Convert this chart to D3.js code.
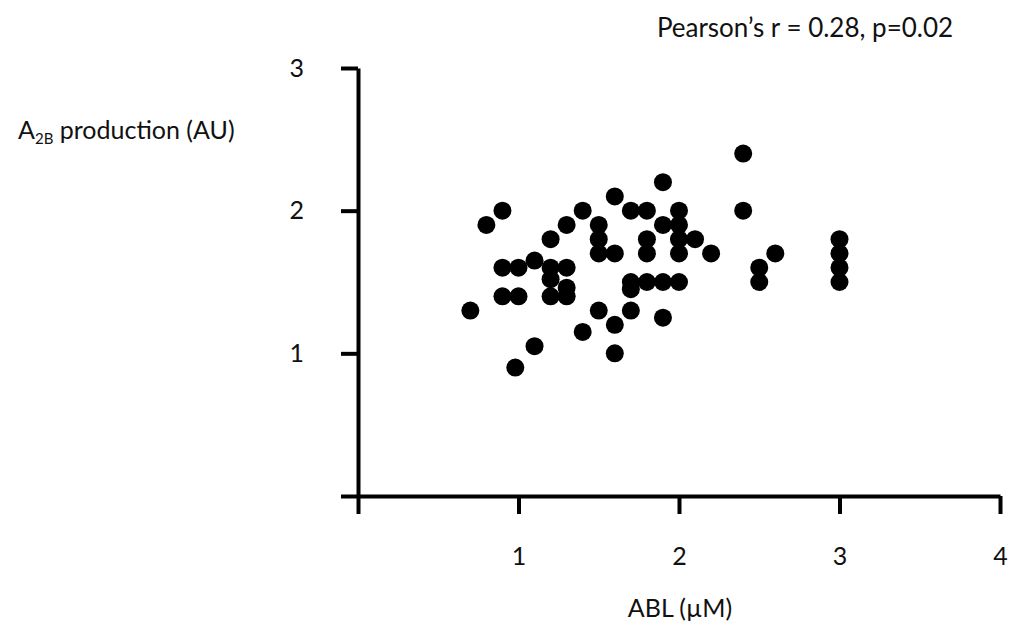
<!DOCTYPE html>
<html>
<head>
<meta charset="utf-8">
<script src="https://cdn.jsdelivr.net/npm/d3@7"></script>
<style>
  body { margin: 0; background: #fff; }
  text { font-family: Lato, "Open Sans", sans-serif; fill: #111; }
</style>
</head>
<body>
<svg id="chart" width="1011" height="624"></svg>
<script>
// ABL (uM) vs A2B production (AU)
const ablValues = [
    0.7, 0.8, 0.9, 0.9, 0.9, 1.0, 1.0, 0.98, 1.1, 1.1,
    1.2, 1.2, 1.2, 1.2, 1.3, 1.3, 1.3, 1.3, 1.4, 1.4,
    1.5, 1.5, 1.5, 1.5, 1.6, 1.6, 1.6, 1.6, 1.7, 1.7,
    1.7, 1.7, 1.8, 1.8, 1.8, 1.8, 1.9, 1.9, 1.9, 1.9,
    2.0, 2.0, 2.0, 2.0, 2.0, 2.1, 2.2, 2.4, 2.4, 2.5,
    2.5, 2.6, 3.0, 3.0, 3.0, 3.0
];
const a2bValues = [
    1.3, 1.9, 2.0, 1.6, 1.4, 1.6, 1.4, 0.9, 1.05, 1.65,
    1.8, 1.6, 1.52, 1.4, 1.9, 1.6, 1.46, 1.4, 2.0, 1.15,
    1.9, 1.8, 1.7, 1.3, 2.1, 1.7, 1.2, 1.0, 2.0, 1.5,
    1.45, 1.3, 2.0, 1.8, 1.7, 1.5, 2.2, 1.9, 1.5, 1.25,
    2.0, 1.9, 1.8, 1.7, 1.5, 1.8, 1.7, 2.4, 2.0, 1.6,
    1.5, 1.7, 1.8, 1.7, 1.6, 1.5
];
const xTicks = [0, 1, 2, 3, 4];
const yTicks = [0, 1, 2, 3];

const statsLabel = "Pearson\u2019s r = 0.28, p=0.02";
const xLabel = "ABL (\u00B5M)";

const axisWidth = 4;
const dotR = 9;
const fontSize = "25px";

let svg = d3.select("#chart");

let x = d3.scaleLinear().domain([0, 4]).range([358, 1000]);
let y = d3.scaleLinear().domain([0, 3]).range([496, 68]);

let points = ablValues.map((v, i) => ({ abl: v, a2b: a2bValues[i] }));

svg.append("g")
    .attr("transform", `translate(0,${y(0)})`)
    .call(d3.axisBottom(x)
        .tickValues(xTicks)
        .tickSize(18)
        .tickSizeOuter(0)
        .tickPadding(33)
        .tickFormat((d) => (d === 0 ? "" : d)));

svg.append("g")
    .attr("transform", `translate(${x(0)},0)`)
    .call(d3.axisLeft(y)
        .tickValues(yTicks)
        .tickSize(17)
        .tickSizeOuter(0)
        .tickPadding(37)
        .tickFormat((d) => (d === 0 ? "" : d)));

svg.selectAll(".domain, .tick line")
    .attr("stroke", "#000")
    .attr("stroke-width", axisWidth);

svg.selectAll(".tick text")
    .style("font-family", "Lato, sans-serif")
    .style("font-size", fontSize)
    .attr("fill", "#111");

svg.append("g")
    .selectAll("circle")
    .data(points)
    .join("circle")
    .attr("cx", (d) => x(d.abl))
    .attr("cy", (d) => y(d.a2b))
    .attr("r", dotR)
    .attr("fill", "#000");

svg.append("text")
    .attr("x", 805)
    .attr("y", 37)
    .attr("text-anchor", "middle")
    .style("font-size", "26px")
    .text(statsLabel);

svg.append("text")
    .attr("x", 680)
    .attr("y", 617)
    .attr("text-anchor", "middle")
    .style("font-size", fontSize)
    .text(xLabel);

let yl = svg.append("text")
    .attr("x", 18)
    .attr("y", 139)
    .style("font-size", fontSize);
yl.append("tspan").text("A");
yl.append("tspan").attr("dy", 5).style("font-size", "15px").text("2B");
yl.append("tspan").attr("dy", -5).text(" production (AU)");
</script>
</body>
</html>
